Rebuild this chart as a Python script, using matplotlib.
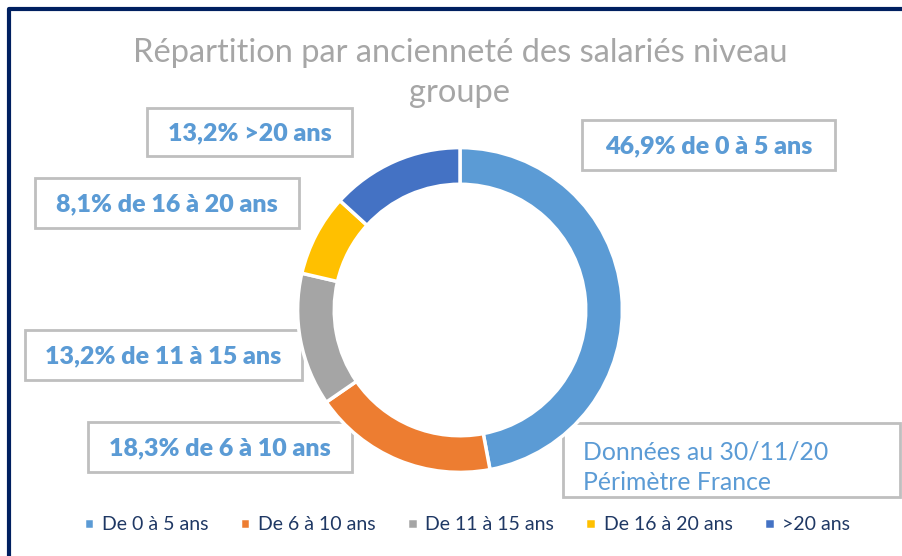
import matplotlib.pyplot as plt
from matplotlib.patches import Rectangle

# Data
categories = ["De 0 à 5 ans", "De 6 à 10 ans", "De 11 à 15 ans", "De 16 à 20 ans", ">20 ans"]
values = [46.9, 18.3, 13.2, 8.1, 13.2]
label_texts = ["46,9% de 0 à 5 ans", "18,3% de 6 à 10 ans", "13,2% de 11 à 15 ans",
               "8,1% de 16 à 20 ans", "13,2% >20 ans"]
colors = ["#5B9BD5", "#ED7D31", "#A5A5A5", "#FFC000", "#4472C4"]
title = "Répartition par ancienneté des salariés niveau\ngroupe"
note = "Données au 30/11/20\nPérimètre France"

W, H = 902, 556
plt.rcParams['font.family'] = ['Lato', 'DejaVu Sans']
fig = plt.figure(figsize=(W / 100, H / 100), dpi=100)

# overlay in pixel coordinates for boxes / frame
ov = fig.add_axes([0, 0, 1, 1])
ov.set_xlim(0, W)
ov.set_ylim(H, 0)
ov.axis('off')

# dark frame (left and top visible)
ov.plot([9, 9, W + 5], [H + 5, 9, 9], color="#002060", lw=3, solid_capstyle='butt')

# donut
cx, cy, r = 460, 310, 164
ax = fig.add_axes([(cx - r) / W, (H - cy - r) / H, 2 * r / W, 2 * r / H])
wedges, _ = ax.pie(values, colors=colors, startangle=90, counterclock=False,
                   radius=1, wedgeprops=dict(width=37 / 164, edgecolor='white', linewidth=2.5))
ax.set_xlim(-1.01, 1.01)
ax.set_ylim(-1.01, 1.01)
ax.set_aspect('equal')
ax.axis('off')

# title
fig.text(cx / W, 1 - 73 / H, title, ha='center', va='center', fontsize=23.5,
         color="#A6A6A6", linespacing=1.4)

# data label boxes (x0, y0, x1, y1) in pixels
boxes = [(582, 120, 835, 170), (88, 422, 352, 472), (25, 330, 302, 380),
         (35, 178, 299, 228), (147, 108, 352, 156)]
for (x0, y0, x1, y1), txt in zip(boxes, label_texts):
    ov.add_patch(Rectangle((x0, y0), x1 - x0, y1 - y0, fill=True, facecolor='white',
                           edgecolor="#BFBFBF", lw=2))
    ov.text((x0 + x1) / 2, (y0 + y1) / 2 + 1, txt, ha='center', va='center',
            fontsize=18, fontweight='heavy', color="#5B9BD5")

# note box
ov.add_patch(Rectangle((563, 423), 337, 74, facecolor='white', edgecolor="#BFBFBF", lw=2))
ov.text(583, 467, note, ha='left', va='center', fontsize=17.8, color="#5B9BD5", linespacing=1.4)

# legend
fig.legend(wedges, categories, loc='center', bbox_to_anchor=(467 / W, 1 - 525 / H), ncol=5,
           frameon=False, handlelength=0.55, handleheight=0.55, handletextpad=0.4,
           columnspacing=1.6, fontsize=14, labelcolor="#1F3864")

fig.savefig("out.png", dpi=100)
